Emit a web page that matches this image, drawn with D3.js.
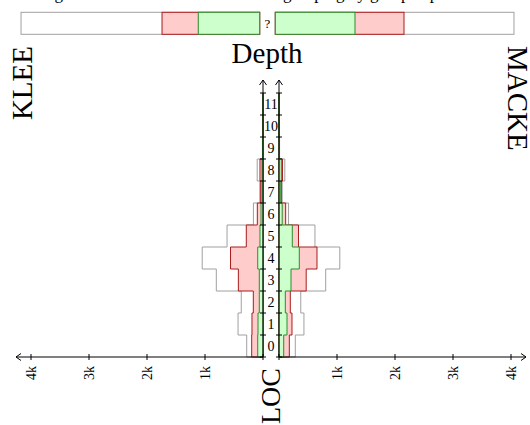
<!DOCTYPE html>
<html>
<head>
<meta charset="utf-8">
<script src="https://cdn.jsdelivr.net/npm/d3@7"></script>
<style>
  body { margin: 0; background: #fff; }
  svg { display: block; }
  text { font-family: "Liberation Serif", "DejaVu Serif", serif; fill: #000; }
</style>
</head>
<body>
<svg id="chart" width="530" height="425"></svg>
<script>
// call depth of the functions, and the LOC reached at each depth
const depths = [0, 1, 2, 3, 4, 5, 6, 7, 8, 9, 10, 11];
const totalLoc = [281, 430, 375, 805, 1048, 620, 165, 55, 100, 10, 0, 0];
const kleeRed = [195, 190, 167, 425, 560, 288, 98, 40, 52, 8, 0, 0];
const kleeGreen = [91, 86, 64, 64, 91, 52, 34, 17, 17, 6, 0, 0];
const mackeRed = [178, 224, 195, 469, 655, 336, 115, 40, 60, 8, 0, 0];
const mackeGreen = [81, 138, 109, 207, 350, 229, 55, 30, 40, 6, 0, 0];

// functions with unknown depth ("?")
const unknownTotal = 4115;
const kleeUnknown = [1684, 1059];   // red, green
const mackeUnknown = [2219, 1374];

const locTicks = [1000, 2000, 3000, 4000];
const locTickLabels = ["1k", "2k", "3k", "4k"];

const colors = {
  total: { fill: "#ffffff", stroke: "#a0a0a0" },
  red: { fill: "#ffcccc", stroke: "#a81c1c" },
  green: { fill: "#ccffcc", stroke: "#2e8b2e" }
};

const svg = d3.select("#chart");

const leftZero = 263, rightZero = 279, axisY = 357;
const xLeft = d3.scaleLinear().domain([0, 4000]).range([leftZero, leftZero - 232]);
const xRight = d3.scaleLinear().domain([0, 4000]).range([rightZero, rightZero + 232]);
const y = d3.scaleLinear().domain([0, 12]).range([axisY, axisY - 264]);

// clipped legend line at the very top
svg.append("text").attr("x", 63).attr("y", -1).attr("text-anchor", "end")
  .style("font-size", "17px").text("Covering");
svg.append("text").attr("x", 283).attr("y", -1)
  .style("font-size", "17px").text("grouping by group depth");

function drawSide(xs, layers) {
  const g = svg.append("g");
  layers.forEach(([values, col]) => {
    const steps = values.flatMap((v, i) => [[depths[i], v], [depths[i] + 1, v]]);
    const area = d3.area()
      .y(d => y(d[0]))
      .x0(xs(0))
      .x1(d => xs(d[1]));
    g.append("path")
      .attr("d", area(steps))
      .attr("fill", col.fill)
      .attr("stroke", col.stroke)
      .attr("stroke-width", 1);
  });
}

drawSide(xLeft, [[totalLoc, colors.total], [kleeRed, colors.red], [kleeGreen, colors.green]]);
drawSide(xRight, [[totalLoc, colors.total], [mackeRed, colors.red], [mackeGreen, colors.green]]);

// the "?" bar, a bit closer to the middle
const qLeft = d3.scaleLinear().domain([0, 4000]).range([259.7, 259.7 - 232]);
const qRight = d3.scaleLinear().domain([0, 4000]).range([275.3, 275.3 + 232]);
const qTop = 12.3, qH = 22;
function qBar(xs, vals) {
  const layers = [[unknownTotal, colors.total], [vals[0], colors.red], [vals[1], colors.green]];
  layers.forEach(([v, col]) => {
    svg.append("rect")
      .attr("x", Math.min(xs(0), xs(v)))
      .attr("y", qTop)
      .attr("width", Math.abs(xs(v) - xs(0)))
      .attr("height", qH)
      .attr("fill", col.fill)
      .attr("stroke", col.stroke)
      .attr("stroke-width", 1);
  });
}
qBar(qLeft, kleeUnknown);
qBar(qRight, mackeUnknown);
svg.append("text").attr("x", 267.5).attr("y", qTop + qH / 2)
  .attr("text-anchor", "middle").attr("dominant-baseline", "central")
  .style("font-size", "13px").text("?");

// axes
const axes = svg.append("g").attr("stroke", "#000").attr("stroke-width", 1).attr("fill", "none");
function arrow(x, yy, dir) {
  const a = 5, b = 3.5;
  let p;
  if (dir === "left") p = `M${x + a},${yy - b} L${x},${yy} L${x + a},${yy + b}`;
  if (dir === "right") p = `M${x - a},${yy - b} L${x},${yy} L${x - a},${yy + b}`;
  if (dir === "up") p = `M${x - b},${yy + a} L${x},${yy} L${x + b},${yy + a}`;
  axes.append("path").attr("d", p);
}

axes.append("line").attr("x1", 16).attr("x2", leftZero).attr("y1", axisY).attr("y2", axisY);
axes.append("line").attr("x1", rightZero).attr("x2", 526).attr("y1", axisY).attr("y2", axisY);
arrow(16, axisY, "left");
arrow(526, axisY, "right");

[xLeft, xRight].forEach(xs => {
  [0].concat(locTicks).forEach(t => {
    axes.append("line").attr("x1", xs(t)).attr("x2", xs(t))
      .attr("y1", axisY - 3).attr("y2", axisY + 3);
  });
  locTicks.forEach((t, i) => {
    svg.append("text")
      .attr("transform", `translate(${xs(t) + 5},366) rotate(-90)`)
      .attr("text-anchor", "end")
      .style("font-size", "14px")
      .text(locTickLabels[i]);
  });
});

[leftZero, rightZero].forEach(x => {
  axes.append("line").attr("x1", x).attr("x2", x).attr("y1", axisY).attr("y2", 80);
  arrow(x, 80, "up");
  d3.range(0, 13).forEach(d => {
    axes.append("line").attr("x1", x - 3).attr("x2", x + 3).attr("y1", y(d)).attr("y2", y(d));
  });
});

depths.forEach(d => {
  svg.append("text")
    .attr("x", (leftZero + rightZero) / 2)
    .attr("y", y(d + 0.5))
    .attr("text-anchor", "middle")
    .attr("dominant-baseline", "central")
    .style("font-size", "14px")
    .text(d);
});

// titles
svg.append("text").attr("x", 267).attr("y", 63).attr("text-anchor", "middle")
  .style("font-size", "29px").text("Depth");
svg.append("text").attr("transform", "translate(32,46) rotate(-90)")
  .attr("text-anchor", "end").style("font-size", "29px").text("KLEE");
svg.append("text").attr("transform", "translate(508,46) rotate(90)")
  .attr("text-anchor", "start").style("font-size", "29px").text("MACKE");
svg.append("text").attr("transform", "translate(280,368) rotate(-90)")
  .attr("text-anchor", "end").style("font-size", "28px").text("LOC");
</script>
</body>
</html>
